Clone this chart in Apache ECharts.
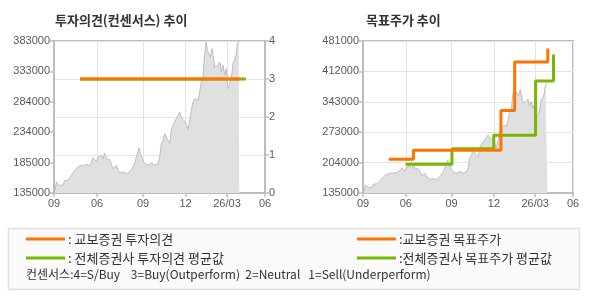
<!DOCTYPE html>
<html>
<head>
<meta charset="utf-8">
<script src="https://cdn.jsdelivr.net/npm/echarts@6/dist/echarts.min.js"></script>
<style>html,body{margin:0;padding:0;background:#fff}#c{width:590px;height:300px}</style>
</head>
<body>
<div id="c"></div>
<script>
// x positions are trading-day indices from the start of the chart
const xTickDays = [0, 43, 89, 131.5, 173, 211];
const xTickLabels = ['09', '06', '09', '12', '26/03', '06'];

const priceDays = [0.7,2.3,4,5.7,7.3,9,10.7,12.3,14,15.7,17.3,19,20.7,22.3,24,25.7,27.3,29,30.7,32.3,34,35.7,37.3,39,40.7,42.3,44,45.7,47.3,49,50.7,52.3,54,55.7,57.3,59,60.7,62.3,64,65.7,67.3,69,70.7,72.3,74,75.7,77.3,79,80.7,82.3,84,85,86.3,88.3,90.7,92.3,94,95.7,97.3,99,100.7,102.3,104,105.7,107.3,109,110.7,112.3,114,115.7,117.3,119,120.7,122.3,124,125.7,127.3,129,130.7,132.3,134,135.7,137.3,139,140.7,142.3,144,145.7,147.3,149,150.7,152.3,153.3,155,156.3,158,159,160.7,162.3,164,165.7,167.3,169,170.7,172.3,174,175.7,177.3,179,180.7,182.3,183.3,184.7,185.3];
const prices = [136600,152900,154600,147500,149100,147500,155700,156800,155700,158400,163800,167600,172000,170900,177400,179100,180100,177400,180100,177400,181800,178500,185600,192700,189400,185600,193700,193700,196500,191000,200300,191000,189400,189400,182900,174700,173100,180100,172000,167600,166500,169300,167600,166500,165500,169300,172000,177400,182900,193700,201900,209000,199200,191000,182900,184000,180100,178500,184000,181800,180100,177400,182900,193700,215500,220900,231800,226400,220900,215500,237300,245400,248100,256300,261700,267200,259000,254700,256300,248100,238300,253600,269900,283500,288900,291600,286200,299800,316100,324300,362400,381400,367800,365100,356900,370500,359600,340600,337900,343300,348800,332400,343300,327000,337900,305200,313400,321600,346000,351500,362400,378700,383000,381400];

const opinionDays = [26, 186];
const kbOpinion = [3, 3];
const avgOpinionDays = [26, 192];
const avgOpinion = [3, 3];

const kbTargetDays = [26, 50.7, 138.6, 152.4, 185.7];
const kbTarget = [212000, 232500, 323000, 433000, 464000];
const avgTargetDays = [42.7, 89.4, 131.4, 173.4, 191.4];
const avgTarget = [200500, 236000, 266500, 390000, 450000];

const leftYTicks = [135000, 184600, 234200, 283800, 333400, 383000];
const rightYTicks = [135000, 204200, 273400, 342600, 411800, 481000];

const ORANGE = '#ff7400';
const GREEN = '#77b800';
const AXIS = '#bdbdbd';
const GRID = '#e4e4e4';
const LBL = '#5a5a5a';
const NUMFONT = 'Liberation Sans, Arial, sans-serif';
const KFONT = "'Noto Sans CJK KR', sans-serif";

const pair = (xs, ys) => xs.map((x, i) => [x, ys[i]]);
const priceData = pair(priceDays, prices);

function xAxis(gi) {
  return {
    type: 'value', gridIndex: gi, min: 0, max: 211,
    axisLine: { show: true, onZero: false, lineStyle: { color: AXIS, width: 2 } },
    axisTick: { show: true, customValues: xTickDays, length: 4, lineStyle: { color: AXIS, width: 1.5 } },
    axisLabel: { customValues: xTickDays, color: LBL, fontFamily: NUMFONT, fontSize: 11, margin: 5,
      formatter: v => xTickLabels[xTickDays.indexOf(v)] },
    splitLine: { show: true, lineStyle: { color: GRID, width: 1 } }
  };
}
const round1000 = v => String(Math.round(v / 1000) * 1000);

const option = {
  animation: false,
  backgroundColor: '#fff',
  title: [
    { text: '투자의견(컨센서스) 추이', left: 55, top: 14, padding: 0,
      textStyle: { fontFamily: KFONT, fontSize: 13, fontWeight: 'bold', color: '#333' } },
    { text: '목표주가 추이', left: 366, top: 14, padding: 0,
      textStyle: { fontFamily: KFONT, fontSize: 13, fontWeight: 'bold', color: '#333' } }
  ],
  grid: [
    { left: 54, top: 41, width: 211, height: 152, show: true, borderColor: AXIS, borderWidth: 2 },
    { left: 363, top: 41, width: 210, height: 152, show: true, borderColor: AXIS, borderWidth: 2 }
  ],
  xAxis: [xAxis(0), xAxis(1)],
  yAxis: [
    { type: 'value', gridIndex: 0, position: 'left', min: 135000, max: 383000,
      axisLine: { show: true, lineStyle: { color: AXIS, width: 2 } },
      axisTick: { show: true, customValues: leftYTicks, length: 4, lineStyle: { color: AXIS, width: 1.5 } },
      axisLabel: { customValues: leftYTicks, formatter: round1000, color: LBL, fontFamily: NUMFONT, fontSize: 11, margin: 4 },
      splitLine: { show: false } },
    { type: 'value', gridIndex: 0, position: 'right', min: 0, max: 4, interval: 1,
      axisLine: { show: true, lineStyle: { color: AXIS, width: 2 } },
      axisTick: { show: true, length: 4, lineStyle: { color: AXIS, width: 1.5 } },
      axisLabel: { color: LBL, fontFamily: NUMFONT, fontSize: 11, margin: 4 },
      splitLine: { show: true, lineStyle: { color: GRID, width: 1 } } },
    { type: 'value', gridIndex: 1, position: 'left', min: 135000, max: 481000,
      axisLine: { show: true, lineStyle: { color: AXIS, width: 2 } },
      axisTick: { show: true, customValues: rightYTicks, length: 4, lineStyle: { color: AXIS, width: 1.5 } },
      axisLabel: { customValues: rightYTicks, formatter: round1000, color: LBL, fontFamily: NUMFONT, fontSize: 11, margin: 4 },
      splitLine: { show: true, lineStyle: { color: GRID, width: 1 } } }
  ],
  legend: [
    { data: ['교보증권 투자의견'], left: 26, top: 232, orient: 'vertical' },
    { data: ['전체증권사 투자의견 평균값'], left: 26, top: 251, orient: 'vertical' },
    { data: ['교보증권 목표주가'], left: 357, top: 232, orient: 'vertical' },
    { data: ['전체증권사 목표주가 평균값'], left: 357, top: 251, orient: 'vertical' }
  ].map((l, i) => Object.assign(l, {
    padding: 0, icon: 'rect', itemWidth: 39, itemHeight: 3,
    formatter: n => (i < 2 ? ': ' : ':') + n,
    textStyle: { fontFamily: KFONT, fontSize: 13, color: '#333', lineHeight: 14, padding: [0, 0, 0, -2] }
  })),
  graphic: [
    { type: 'rect', z: -10, shape: { x: 8.5, y: 228.5, width: 571, height: 61 },
      style: { fill: '#fafafa', stroke: '#e0e0e0', lineWidth: 1.5 } },
    { type: 'text', left: 26, top: 268,
      style: { text: '컨센서스:4=S/Buy    3=Buy(Outperform)  2=Neutral   1=Sell(Underperform)',
        font: '12px ' + KFONT, fill: '#333' } }
  ],
  series: [
    { type: 'line', xAxisIndex: 0, yAxisIndex: 0, data: priceData, symbol: 'none', silent: true, z: 1,
      lineStyle: { color: '#bdbdbd', width: 1 }, areaStyle: { color: '#e0e0e0', opacity: 1, origin: 'start' } },
    { name: '전체증권사 투자의견 평균값', type: 'line', xAxisIndex: 0, yAxisIndex: 1, data: pair(avgOpinionDays, avgOpinion),
      symbol: 'none', color: GREEN, lineStyle: { color: GREEN, width: 3 }, z: 3 },
    { name: '교보증권 투자의견', type: 'line', xAxisIndex: 0, yAxisIndex: 1, data: pair(opinionDays, kbOpinion),
      symbol: 'none', color: ORANGE, lineStyle: { color: ORANGE, width: 3 }, z: 4 },
    { type: 'line', xAxisIndex: 1, yAxisIndex: 2, data: priceData, symbol: 'none', silent: true, z: 1,
      lineStyle: { color: '#bdbdbd', width: 1 }, areaStyle: { color: '#e0e0e0', opacity: 1, origin: 'start' } },
    { name: '전체증권사 목표주가 평균값', type: 'line', step: 'end', xAxisIndex: 1, yAxisIndex: 2, data: pair(avgTargetDays, avgTarget),
      symbol: 'none', color: GREEN, lineStyle: { color: GREEN, width: 3 }, z: 3 },
    { name: '교보증권 목표주가', type: 'line', step: 'end', xAxisIndex: 1, yAxisIndex: 2, data: pair(kbTargetDays, kbTarget),
      symbol: 'none', color: ORANGE, lineStyle: { color: ORANGE, width: 3 }, z: 4 }
  ]
};
const chart = echarts.init(document.getElementById('c'), null, { renderer: 'canvas' });
chart.setOption(option);
</script>
</body>
</html>
